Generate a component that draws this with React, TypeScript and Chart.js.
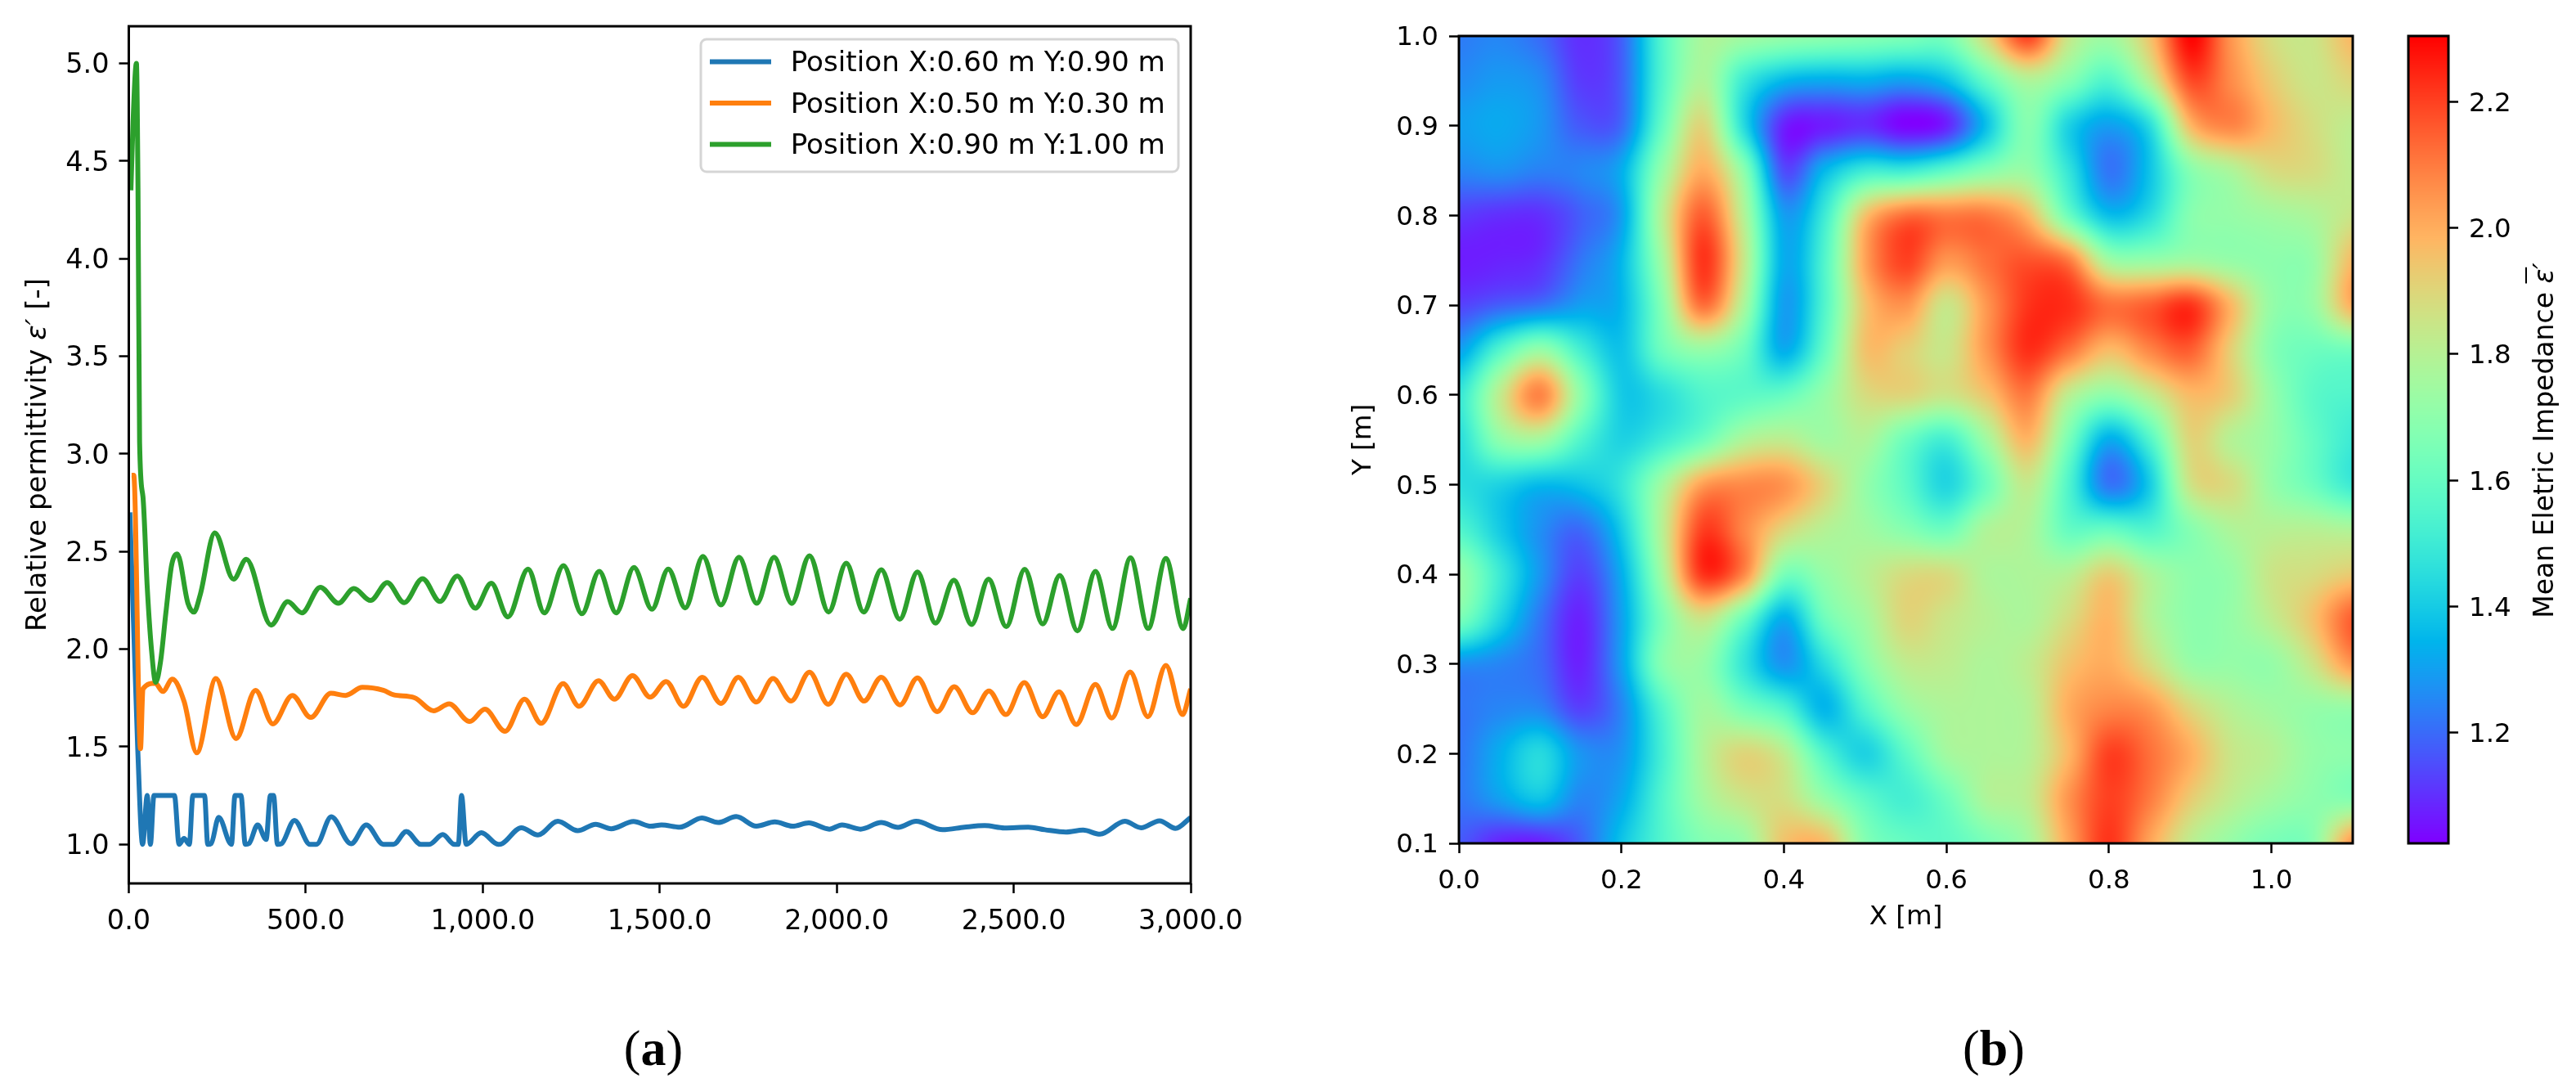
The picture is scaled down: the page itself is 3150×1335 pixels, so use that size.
import React, { useEffect, useRef } from "react";
import { Chart, registerables } from "chart.js";

Chart.register(...registerables);

const FONT = "'DejaVu Sans'";

// ---- panel (a) data ----
const seriesNames = ["Position X:0.60 m Y:0.90 m", "Position X:0.50 m Y:0.30 m", "Position X:0.90 m Y:1.00 m"];
const seriesColors = ["#1f77b4", "#ff7f0e", "#2ca02c"];

const blueT = [3, 14, 25, 39, 52, 61, 71, 129, 142, 156, 171, 181, 214, 223, 233, 254, 290, 300, 317, 329, 340, 364, 388, 400, 409, 420, 431, 468, 512, 530, 572, 628, 671, 719, 748, 784, 825, 849, 887, 920, 931, 940, 953, 996, 1044, 1056, 1109, 1156, 1212, 1268, 1319, 1363, 1426, 1475, 1505, 1557, 1619, 1665, 1716, 1773, 1825, 1875, 1921, 1979, 2015, 2067, 2126, 2173, 2224, 2299, 2361, 2418, 2474, 2541, 2588, 2648, 2696, 2744, 2814, 2860, 2912, 2957, 3000];
const blueV = [2.7, 2.1, 1.5, 1.0, 1.25, 1.0, 1.25, 1.25, 1.0, 1.03, 1.0, 1.25, 1.25, 1.0, 1.005, 1.138, 1.0, 1.25, 1.25, 1.0, 1.005, 1.1, 1.025, 1.25, 1.25, 1.0, 1.003, 1.123, 1.0, 1.0, 1.141, 1.003, 1.1, 1.0, 1.0, 1.066, 1.0, 1.0, 1.05, 1.0, 1.0, 1.25, 1.0, 1.06, 1.0, 1.005, 1.085, 1.048, 1.118, 1.07, 1.103, 1.08, 1.117, 1.093, 1.1, 1.088, 1.135, 1.112, 1.142, 1.093, 1.115, 1.093, 1.11, 1.078, 1.1, 1.078, 1.112, 1.087, 1.118, 1.075, 1.088, 1.096, 1.084, 1.088, 1.075, 1.063, 1.073, 1.052, 1.118, 1.085, 1.121, 1.082, 1.138];

const orangeT = [8, 14, 33, 40, 75, 96, 123, 156, 192, 246, 303, 358, 407, 462, 514, 571, 612, 660, 719, 748, 807, 861, 905, 963, 1006, 1063, 1118, 1165, 1227, 1272, 1327, 1372, 1423, 1473, 1518, 1567, 1620, 1673, 1722, 1773, 1820, 1871, 1923, 1976, 2027, 2077, 2126, 2179, 2228, 2284, 2332, 2384, 2430, 2478, 2530, 2582, 2628, 2677, 2731, 2777, 2829, 2879, 2930, 2977, 3000];
const orangeV = [2.89, 2.89, 1.49, 1.796, 1.825, 1.783, 1.846, 1.733, 1.469, 1.849, 1.542, 1.789, 1.617, 1.763, 1.65, 1.774, 1.763, 1.804, 1.789, 1.766, 1.751, 1.684, 1.72, 1.629, 1.692, 1.579, 1.744, 1.62, 1.823, 1.707, 1.838, 1.744, 1.864, 1.754, 1.834, 1.707, 1.856, 1.722, 1.856, 1.729, 1.849, 1.734, 1.882, 1.717, 1.871, 1.734, 1.856, 1.714, 1.853, 1.68, 1.808, 1.674, 1.786, 1.665, 1.829, 1.654, 1.781, 1.614, 1.819, 1.647, 1.883, 1.654, 1.916, 1.665, 1.796];

const greenT = [6, 12, 21.5, 26, 30.5, 40, 52, 63.5, 76, 90, 105, 121, 137, 167, 184, 202, 243, 296, 332, 402, 449, 489, 541, 592, 636, 683, 730, 778, 830, 879, 928, 979, 1024, 1071, 1128, 1174, 1228, 1280, 1329, 1377, 1427, 1478, 1524, 1572, 1622, 1673, 1724, 1774, 1823, 1873, 1923, 1977, 2027, 2076, 2126, 2178, 2228, 2279, 2331, 2381, 2429, 2479, 2531, 2582, 2630, 2680, 2731, 2779, 2830, 2880, 2930, 2979, 3000];
const greenV = [4.35, 4.7, 5.0, 4.35, 3.06, 2.78, 2.32, 2.01, 1.83, 1.94, 2.19, 2.43, 2.487, 2.235, 2.19, 2.28, 2.595, 2.358, 2.46, 2.123, 2.243, 2.186, 2.317, 2.235, 2.31, 2.249, 2.341, 2.238, 2.361, 2.244, 2.374, 2.21, 2.338, 2.165, 2.41, 2.186, 2.428, 2.181, 2.398, 2.186, 2.418, 2.204, 2.41, 2.211, 2.475, 2.226, 2.47, 2.235, 2.47, 2.234, 2.478, 2.19, 2.44, 2.19, 2.407, 2.153, 2.395, 2.133, 2.353, 2.126, 2.358, 2.115, 2.409, 2.129, 2.377, 2.093, 2.398, 2.106, 2.467, 2.106, 2.464, 2.105, 2.26];

const lineXTicks = [0, 500, 1000, 1500, 2000, 2500, 3000];
const lineYTicks = [1, 1.5, 2, 2.5, 3, 3.5, 4, 4.5, 5];

// ---- panel (b) data ----
const mapX = [0, 0.05, 0.1, 0.15, 0.2, 0.25, 0.3, 0.35, 0.4, 0.45, 0.5, 0.55, 0.6, 0.65, 0.7, 0.75, 0.8, 0.85, 0.9, 0.95, 1.0, 1.05, 1.1];
const mapY = [1.0, 0.95, 0.9, 0.85, 0.8, 0.75, 0.7, 0.65, 0.6, 0.55, 0.5, 0.45, 0.4, 0.35, 0.3, 0.25, 0.2, 0.15, 0.1];
const mapValues = [
  [1.23, 1.25, 1.2, 1.1, 1.18, 1.55, 1.77, 1.75, 1.72, 1.7, 1.68, 1.66, 1.65, 1.9, 2.2, 1.85, 1.75, 1.95, 2.3, 2.05, 1.88, 1.85, 1.98],
  [1.26, 1.29, 1.26, 1.12, 1.18, 1.55, 1.78, 1.5, 1.35, 1.32, 1.33, 1.3, 1.37, 1.6, 1.78, 1.68, 1.55, 1.8, 2.18, 2.07, 1.93, 1.85, 1.9],
  [1.3, 1.32, 1.28, 1.17, 1.2, 1.6, 1.9, 1.45, 1.08, 1.07, 1.1, 1.03, 1.08, 1.38, 1.68, 1.42, 1.3, 1.45, 1.97, 2.08, 1.97, 1.88, 1.82],
  [1.25, 1.27, 1.24, 1.25, 1.33, 1.72, 2.0, 1.7, 1.15, 1.35, 1.5, 1.5, 1.58, 1.68, 1.72, 1.48, 1.22, 1.38, 1.68, 1.78, 1.88, 1.88, 1.82],
  [1.12, 1.1, 1.1, 1.18, 1.3, 1.8, 2.15, 1.8, 1.3, 1.5, 1.95, 2.12, 2.1, 2.1, 1.98, 1.62, 1.37, 1.45, 1.68, 1.72, 1.75, 1.78, 1.85],
  [1.07, 1.08, 1.1, 1.22, 1.35, 1.75, 2.22, 1.85, 1.33, 1.55, 2.02, 2.2, 2.05, 2.12, 2.17, 2.1, 1.75, 1.72, 1.75, 1.72, 1.7, 1.72, 1.97],
  [1.13, 1.18, 1.22, 1.3, 1.35, 1.68, 2.12, 1.78, 1.3, 1.55, 1.95, 2.05, 1.85, 2.05, 2.22, 2.23, 2.12, 2.15, 2.22, 1.98, 1.72, 1.72, 2.0],
  [1.3, 1.55, 1.72, 1.52, 1.38, 1.62, 1.72, 1.62, 1.33, 1.6, 1.95, 1.92, 1.85, 2.05, 2.23, 2.12, 1.97, 2.08, 2.15, 1.92, 1.68, 1.62, 1.63],
  [1.48, 1.82, 2.08, 1.7, 1.4, 1.45, 1.55, 1.58, 1.6, 1.72, 1.88, 1.9, 1.85, 1.95, 2.1, 1.82, 1.7, 1.82, 1.97, 1.92, 1.72, 1.58, 1.55],
  [1.45, 1.7, 1.75, 1.55, 1.42, 1.5, 1.62, 1.78, 1.82, 1.75, 1.78, 1.62, 1.52, 1.75, 1.98, 1.65, 1.33, 1.55, 1.9, 1.8, 1.72, 1.6, 1.5],
  [1.45, 1.42, 1.36, 1.38, 1.48, 1.75, 2.03, 2.07, 2.05, 1.9, 1.72, 1.58, 1.43, 1.62, 1.83, 1.55, 1.22, 1.4, 1.85, 1.88, 1.72, 1.62, 1.5],
  [1.55, 1.4, 1.27, 1.2, 1.4, 1.8, 2.2, 2.08, 1.9, 1.8, 1.75, 1.68, 1.62, 1.78, 1.78, 1.6, 1.6, 1.55, 1.68, 1.78, 1.8, 1.8, 1.78],
  [1.72, 1.5, 1.28, 1.13, 1.33, 1.75, 2.22, 2.08, 1.65, 1.72, 1.8, 1.88, 1.88, 1.78, 1.78, 1.8, 1.92, 1.78, 1.7, 1.72, 1.85, 1.88, 1.93],
  [1.65, 1.43, 1.22, 1.08, 1.3, 1.65, 1.85, 1.62, 1.33, 1.62, 1.75, 1.9, 1.85, 1.8, 1.78, 1.88, 1.98, 1.8, 1.7, 1.72, 1.82, 1.95, 2.15],
  [1.27, 1.25, 1.2, 1.08, 1.3, 1.68, 1.72, 1.48, 1.28, 1.45, 1.68, 1.82, 1.82, 1.78, 1.82, 1.95, 2.0, 1.88, 1.73, 1.72, 1.72, 1.85, 2.05],
  [1.22, 1.25, 1.25, 1.13, 1.25, 1.55, 1.75, 1.65, 1.55, 1.35, 1.55, 1.72, 1.78, 1.78, 1.8, 2.0, 2.08, 2.05, 1.9, 1.8, 1.75, 1.72, 1.72],
  [1.22, 1.33, 1.44, 1.28, 1.28, 1.52, 1.78, 1.9, 1.82, 1.55, 1.42, 1.58, 1.75, 1.78, 1.8, 1.98, 2.2, 2.12, 2.0, 1.85, 1.8, 1.72, 1.7],
  [1.22, 1.3, 1.38, 1.25, 1.32, 1.55, 1.75, 1.85, 1.87, 1.72, 1.58, 1.52, 1.62, 1.78, 1.82, 2.05, 2.2, 2.1, 1.93, 1.82, 1.75, 1.7, 1.68],
  [1.17, 1.08, 1.07, 1.18, 1.38, 1.55, 1.67, 1.72, 1.95, 1.97, 1.68, 1.6, 1.58, 1.65, 1.75, 2.02, 2.22, 2.02, 1.82, 1.72, 1.65, 1.68, 2.05],
];
const mapXTicks = [0, 0.2, 0.4, 0.6, 0.8, 1.0];
const mapYTicks = [0.1, 0.2, 0.3, 0.4, 0.5, 0.6, 0.7, 0.8, 0.9, 1.0];
const barTicks = [1.2, 1.4, 1.6, 1.8, 2.0, 2.2];
const VMIN = 1.025;
const VMAX = 2.304;

// matplotlib "rainbow" colormap
function rainbow(t: number): [number, number, number] {
  const c = Math.max(0, Math.min(1, t));
  const cl = (v: number) => Math.max(0, Math.min(1, v)) * 255;
  return [cl(Math.abs(2 * c - 0.5)), cl(Math.sin(Math.PI * c)), cl(Math.cos((Math.PI * c) / 2))];
}

const frame = {
  id: "frame",
  afterDatasetsDraw(chart: any) {
    const { left, top, width, height } = chart.chartArea;
    const ctx = chart.ctx;
    ctx.save();
    ctx.strokeStyle = "#000";
    ctx.lineWidth = 3;
    ctx.strokeRect(left, top, width, height);
    ctx.restore();
  },
};

const insetLegend = {
  id: "insetLegend",
  afterDatasetsDraw(chart: any) {
    const ctx = chart.ctx;
    ctx.save();
    ctx.fillStyle = "rgba(255,255,255,0.8)";
    ctx.strokeStyle = "#d5d5d5";
    ctx.lineWidth = 3;
    ctx.beginPath();
    ctx.roundRect(857, 48, 584, 162, 7);
    ctx.fill();
    ctx.stroke();
    ctx.font = `34.2px ${FONT}`;
    ctx.textBaseline = "alphabetic";
    ctx.textAlign = "left";
    chart.data.datasets.forEach((ds: any, i: number) => {
      const y = 75.5 + i * 50.5;
      ctx.strokeStyle = ds.borderColor;
      ctx.lineWidth = 6;
      ctx.beginPath();
      ctx.moveTo(868, y);
      ctx.lineTo(943, y);
      ctx.stroke();
      ctx.fillStyle = "#000";
      ctx.fillText(ds.label, 966.7, y + 11.7);
    });
    ctx.restore();
  },
};

// Rotated axis title made of pieces, so the symbol can be italic as in the picture.
function drawVerticalTitle(ctx: any, baselineX: number, centerY: number, size: number, pieces: { text: string; italic?: boolean; over?: boolean }[]) {
  const fontOf = (p: { italic?: boolean }) => `${p.italic ? "italic " : ""}${size}px ${FONT}`;
  let total = 0;
  pieces.forEach((p) => {
    ctx.font = fontOf(p);
    total += ctx.measureText(p.text).width;
  });
  ctx.save();
  ctx.translate(baselineX, centerY);
  ctx.rotate(-Math.PI / 2);
  ctx.fillStyle = "#000";
  ctx.textAlign = "left";
  ctx.textBaseline = "alphabetic";
  let cursor = -total / 2;
  pieces.forEach((p) => {
    ctx.font = fontOf(p);
    ctx.fillText(p.text, cursor, 0);
    const w = ctx.measureText(p.text).width;
    if (p.over) {
      ctx.strokeStyle = "#000";
      ctx.lineWidth = 2;
      ctx.beginPath();
      ctx.moveTo(cursor, -size * 1.0);
      ctx.lineTo(cursor + w + 2, -size * 1.0);
      ctx.stroke();
    }
    cursor += w;
  });
  ctx.restore();
}

const permittivityTitle = {
  id: "permittivityTitle",
  afterDraw(chart: any) {
    drawVerticalTitle(chart.ctx, 55.5, 556, 34, [
      { text: "Relative permittivity " },
      { text: "ε′", italic: true },
      { text: " [-]" },
    ]);
  },
};

const impedanceTitle = {
  id: "impedanceTitle",
  afterDraw(chart: any) {
    drawVerticalTitle(chart.ctx, 202, 538.5, 33, [
      { text: "Mean Eletric Impedance " },
      { text: "ε", italic: true, over: true },
      { text: "′", italic: true },
    ]);
  },
};

function catmull(p0: number, p1: number, p2: number, p3: number, t: number) {
  return 0.5 * (2 * p1 + (p2 - p0) * t + (2 * p0 - 5 * p1 + 4 * p2 - p3) * t * t + (3 * p1 - p0 - 3 * p2 + p3) * t * t * t);
}

const heatLayer = {
  id: "heatLayer",
  beforeDatasetsDraw(chart: any) {
    const { left, top, width, height } = chart.chartArea;
    const xs = chart.scales.x;
    const ys = chart.scales.y;
    const w = Math.round(width);
    const h = Math.round(height);
    const img = chart.ctx.createImageData(w, h);
    const nc = mapX.length;
    const nr = mapY.length;
    const stepX = mapX[1] - mapX[0];
    const stepY = mapY[1] - mapY[0];
    const at = (r: number, c: number) => mapValues[Math.max(0, Math.min(nr - 1, r))][Math.max(0, Math.min(nc - 1, c))];
    for (let py = 0; py < h; py++) {
      const gy = (ys.getValueForPixel(top + py + 0.5) - mapY[0]) / stepY;
      const r0 = Math.floor(gy);
      const ty = gy - r0;
      for (let px = 0; px < w; px++) {
        const gx = (xs.getValueForPixel(left + px + 0.5) - mapX[0]) / stepX;
        const c0 = Math.floor(gx);
        const tx = gx - c0;
        const col = [-1, 0, 1, 2].map((d) =>
          catmull(at(r0 + d, c0 - 1), at(r0 + d, c0), at(r0 + d, c0 + 1), at(r0 + d, c0 + 2), tx)
        );
        const v = catmull(col[0], col[1], col[2], col[3], ty);
        const rgb = rainbow((v - VMIN) / (VMAX - VMIN));
        const o = (py * w + px) * 4;
        img.data[o] = rgb[0];
        img.data[o + 1] = rgb[1];
        img.data[o + 2] = rgb[2];
        img.data[o + 3] = 255;
      }
    }
    chart.ctx.putImageData(img, Math.round(left), Math.round(top));
  },
};

const barLayer = {
  id: "barLayer",
  beforeDatasetsDraw(chart: any) {
    const { left, top, width, height } = chart.chartArea;
    const ys = chart.scales.y;
    const ctx = chart.ctx;
    for (let py = 0; py < Math.ceil(height); py++) {
      const v = ys.getValueForPixel(top + py + 0.5);
      const rgb = rainbow((v - VMIN) / (VMAX - VMIN));
      ctx.fillStyle = `rgb(${rgb[0]},${rgb[1]},${rgb[2]})`;
      ctx.fillRect(left, top + py, width, 1);
    }
  },
};

const leftFont = { size: 33.5, family: FONT };
const rightFont = { size: 32.5, family: FONT };
const axisGrid = {
  drawOnChartArea: false,
  drawTicks: true,
  tickLength: 12,
  tickWidth: 2.5,
  tickColor: "#000",
};

function fixedTicks(values: number[]) {
  return (scale: any) => {
    scale.ticks = values.map((value) => ({ value }));
  };
}

function usePanel(build: () => any) {
  const ref = useRef<HTMLCanvasElement>(null);
  useEffect(() => {
    const chart = new Chart(ref.current as HTMLCanvasElement, build());
    return () => chart.destroy();
  }, []);
  return ref;
}

function lineConfig() {
  const series = [
    [blueT, blueV],
    [orangeT, orangeV],
    [greenT, greenV],
  ];
  return {
    type: "scatter",
    data: {
      datasets: series.map(([t, v], i) => ({
        label: seriesNames[i],
        data: t.map((x, k) => ({ x, y: v[k] })),
        borderColor: seriesColors[i],
        backgroundColor: seriesColors[i],
        showLine: true,
        pointRadius: 0,
        borderWidth: 6,
        cubicInterpolationMode: "monotone",
        borderJoinStyle: "round",
        order: 3 - i,
      })),
    },
    options: {
      animation: false,
      responsive: false,
      layout: { padding: { top: 31, right: 100, bottom: 0, left: 0 } },
      plugins: { legend: { display: false }, tooltip: { enabled: false }, title: { display: false } },
      scales: {
        x: {
          type: "linear",
          min: 0,
          max: 3000,
          afterBuildTicks: fixedTicks(lineXTicks),
          afterFit: (s: any) => { s.height = 120; },
          grid: axisGrid,
          border: { display: false },
          ticks: {
            color: "#000",
            font: leftFont,
            padding: 15,
            maxRotation: 0,
            autoSkip: false,
            callback: (v: number) => v.toLocaleString("en-US", { minimumFractionDigits: 1, maximumFractionDigits: 1 }),
          },
        },
        y: {
          type: "linear",
          min: 0.8,
          max: 5.19,
          afterBuildTicks: fixedTicks(lineYTicks),
          afterFit: (s: any) => { s.width = 157.5; },
          grid: axisGrid,
          border: { display: false },
          ticks: { color: "#000", font: leftFont, padding: 12, labelOffset: 3, autoSkip: false, callback: (v: number) => v.toFixed(1) },
        },
      },
    },
    plugins: [insetLegend, frame, permittivityTitle],
  };
}

function mapConfig() {
  const cells: any[] = [];
  mapY.forEach((y, r) => mapX.forEach((x, c) => cells.push({ x, y, v: mapValues[r][c] })));
  return {
    type: "scatter",
    data: { datasets: [{ label: "Mean Eletric Impedance", data: cells, pointRadius: 0, showLine: false }] },
    options: {
      animation: false,
      responsive: false,
      layout: { padding: { top: 44, right: 43, bottom: 0, left: 0 } },
      plugins: { legend: { display: false }, tooltip: { enabled: false } },
      scales: {
        x: {
          type: "linear",
          min: 0,
          max: 1.1,
          afterBuildTicks: fixedTicks(mapXTicks),
          afterFit: (s: any) => { s.height = 129; },
          grid: axisGrid,
          border: { display: false },
          title: { display: true, text: "X [m]", color: "#000", font: rightFont, padding: { top: 0, bottom: 19 } },
          ticks: { color: "#000", font: rightFont, padding: 15, maxRotation: 0, autoSkip: false, callback: (v: number) => v.toFixed(1) },
        },
        y: {
          type: "linear",
          min: 0.1,
          max: 1.0,
          afterBuildTicks: fixedTicks(mapYTicks),
          afterFit: (s: any) => { s.width = 184; },
          grid: axisGrid,
          border: { display: false },
          title: { display: true, text: "Y [m]", color: "#000", font: rightFont, padding: { top: 48, bottom: 0 } },
          ticks: { color: "#000", font: rightFont, padding: 13, labelOffset: 3, autoSkip: false, callback: (v: number) => v.toFixed(1) },
        },
      },
    },
    plugins: [heatLayer, frame],
  };
}

function barConfig() {
  return {
    type: "scatter",
    data: { datasets: [{ label: "colorbar", data: barTicks.map((y) => ({ x: 0, y })), pointRadius: 0 }] },
    options: {
      animation: false,
      responsive: false,
      layout: { padding: { top: 44, right: 0, bottom: 40, left: 25 } },
      plugins: { legend: { display: false }, tooltip: { enabled: false } },
      scales: {
        x: { type: "linear", display: false, min: -1, max: 1 },
        y: {
          type: "linear",
          position: "right",
          min: VMIN,
          max: VMAX,
          afterBuildTicks: fixedTicks(barTicks),
          afterFit: (s: any) => { s.width = 156; },
          grid: axisGrid,
          border: { display: false },
          ticks: { color: "#000", font: rightFont, padding: 13, labelOffset: 3, autoSkip: false, callback: (v: number) => v.toFixed(1) },
        },
      },
    },
    plugins: [barLayer, frame, impedanceTitle],
  };
}

const caption: React.CSSProperties = {
  position: "absolute",
  top: 1281,
  transform: "translate(-50%, -50%)",
  fontFamily: "'Liberation Serif', serif",
  fontSize: 62,
  lineHeight: 1,
  color: "#000",
};

export default function App() {
  const a = usePanel(lineConfig);
  const b = usePanel(mapConfig);
  const c = usePanel(barConfig);
  return (
    <div style={{ position: "fixed", left: 0, top: 0, width: 3150, height: 1335, background: "#fff", overflow: "hidden" }}>
      <canvas ref={a} width={1556} height={1200} style={{ position: "absolute", left: 0, top: 0, display: "block" }} />
      <canvas ref={b} width={1320} height={1160} style={{ position: "absolute", left: 1600, top: 0, display: "block" }} />
      <canvas ref={c} width={230} height={1071} style={{ position: "absolute", left: 2920, top: 0, display: "block" }} />
      <div style={{ ...caption, left: 799 }}>(<b>a</b>)</div>
      <div style={{ ...caption, left: 2438 }}>(<b>b</b>)</div>
    </div>
  );
}
